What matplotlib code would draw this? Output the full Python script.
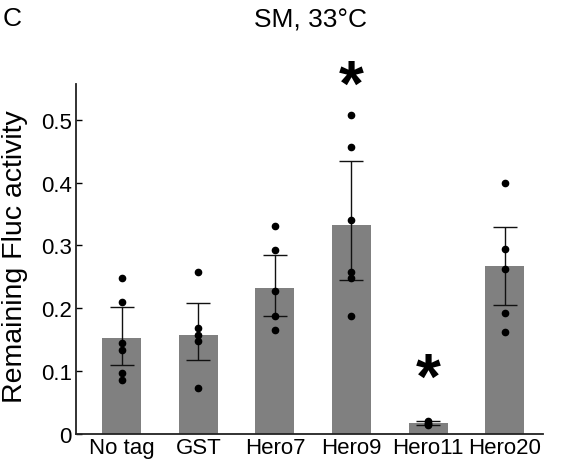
import matplotlib
matplotlib.use("Agg")
import matplotlib.pyplot as plt
import numpy as np

plt.rcParams['font.family'] = ['Liberation Sans', 'DejaVu Sans']

categories = ["No tag", "GST", "Hero7", "Hero9", "Hero11", "Hero20"]
means = [0.153, 0.158, 0.232, 0.333, 0.0175, 0.268]
err_low = [0.044, 0.041, 0.045, 0.088, 0.003, 0.062]
err_high = [0.049, 0.050, 0.052, 0.102, 0.003, 0.061]
points = [
    [0.248, 0.210, 0.145, 0.133, 0.097, 0.086],
    [0.257, 0.169, 0.158, 0.148, 0.073],
    [0.331, 0.292, 0.228, 0.188, 0.166],
    [0.507, 0.457, 0.340, 0.257, 0.248, 0.188],
    [0.021, 0.018, 0.016, 0.014],
    [0.399, 0.295, 0.263, 0.192, 0.162],
]
star_idx = [3, 4]
star_y = [0.551, 0.084]
yticks = [0, 0.1, 0.2, 0.3, 0.4, 0.5]
ytick_labels = ["0", "0.1", "0.2", "0.3", "0.4", "0.5"]

fig = plt.figure(figsize=(5.62, 4.64), dpi=100)
ax = fig.add_axes([0.135, 0.0625, 0.831, 0.7545])

x = np.arange(len(categories))
ax.bar(x, means, width=0.51, color="#808080", zorder=1)
ax.errorbar(x, means, yerr=[err_low, err_high], fmt="none", ecolor="#111111",
            elinewidth=1.0, capsize=8.3, capthick=1.0, zorder=2)
for i, pts in enumerate(points):
    ax.plot([x[i]] * len(pts), pts, "o", color="black", markersize=4.5, zorder=3)

for i, sy in zip(star_idx, star_y):
    ax.text(x[i], sy, "*", ha="center", va="center", fontsize=46,
            fontweight="bold", clip_on=False)

ax.set_xlim(-0.6, 5.5)
ax.set_ylim(0, 0.557)
ax.set_xticks(x)
ax.set_xticklabels(categories, fontsize=16)
ax.set_yticks(yticks)
ax.set_yticklabels(ytick_labels, fontsize=16)
ax.tick_params(axis="x", length=0, pad=2)
ax.tick_params(axis="y", direction="in", length=4, width=1, pad=3)
ax.spines["top"].set_visible(False)
ax.spines["right"].set_visible(False)
for s in ["left", "bottom"]:
    ax.spines[s].set_linewidth(1.3)
    ax.spines[s].set_color("#222222")
ax.set_ylabel("Remaining Fluc activity", fontsize=20.5, va="center")
ax.yaxis.set_label_coords(-0.13, 0.51)

fig.text(0.552, 0.955, "SM, 33°C", ha="center", va="center", fontsize=19)
fig.text(0.004, 0.958, "C", ha="left", va="center", fontsize=19)

fig.savefig("out.png", dpi=100)
